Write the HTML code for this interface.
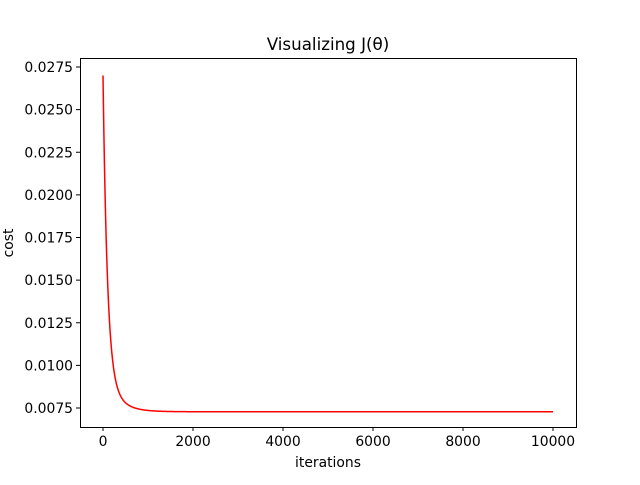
<!DOCTYPE html>
<html><head><meta charset="utf-8"><style>
body{margin:0;background:#fff;}
svg text{font-family:"DejaVu Sans","Liberation Sans",sans-serif;font-size:13.9px;fill:#000;}
</style></head><body>
<svg id="s" width="640" height="480" xmlns="http://www.w3.org/2000/svg">
<rect width="640" height="480" fill="#fff"/>
<text x="328" y="50" text-anchor="middle" style="font-size:16.7px">Visualizing J(θ)</text>
<g stroke="#000" stroke-width="1">
<line x1="103" y1="427" x2="103" y2="431"/>
<line x1="193" y1="427" x2="193" y2="431"/>
<line x1="283" y1="427" x2="283" y2="431"/>
<line x1="373" y1="427" x2="373" y2="431"/>
<line x1="463" y1="427" x2="463" y2="431"/>
<line x1="553" y1="427" x2="553" y2="431"/>
</g>
<g text-anchor="middle">
<text x="103" y="446">0</text><text x="193" y="446">2000</text><text x="283" y="446">4000</text>
<text x="373" y="446">6000</text><text x="463" y="446">8000</text><text x="553" y="446">10000</text>
</g>
<text x="328" y="467" text-anchor="middle">iterations</text>
<g id="yt" text-anchor="end"></g>
<text transform="translate(13,243) rotate(-90)" text-anchor="middle">cost</text>
<polyline id="c" fill="none" stroke="#ff0000" stroke-width="1.5"/>
<rect x="80.5" y="58.5" width="496" height="369" fill="none" stroke="#000" stroke-width="1"/>
</svg>
<script>
var yt=document.getElementById('yt'),h='';
function Y(v){return 408-(v-0.0075)/0.0025*42.625;}
for(var i=0;i<9;i++){var v=0.0075+i*0.0025,y=Y(v);
h+='<line x1="76" x2="80" y1="'+y+'" y2="'+y+'" stroke="#000"/><text x="73" y="'+(y+5)+'">'+v.toFixed(4)+'</text>';}
yt.innerHTML=h;
var p=[];
for(var i=0;i<=10000;i+=(i<2000?10:200)){
var v=0.00728+0.0172*Math.exp(-i*0.0105)+0.00252*Math.exp(-i*0.0035);
p.push((103+i*0.045).toFixed(2)+','+Y(v).toFixed(2));}
document.getElementById('c').setAttribute('points',p.join(' '));
</script>
</body></html>
